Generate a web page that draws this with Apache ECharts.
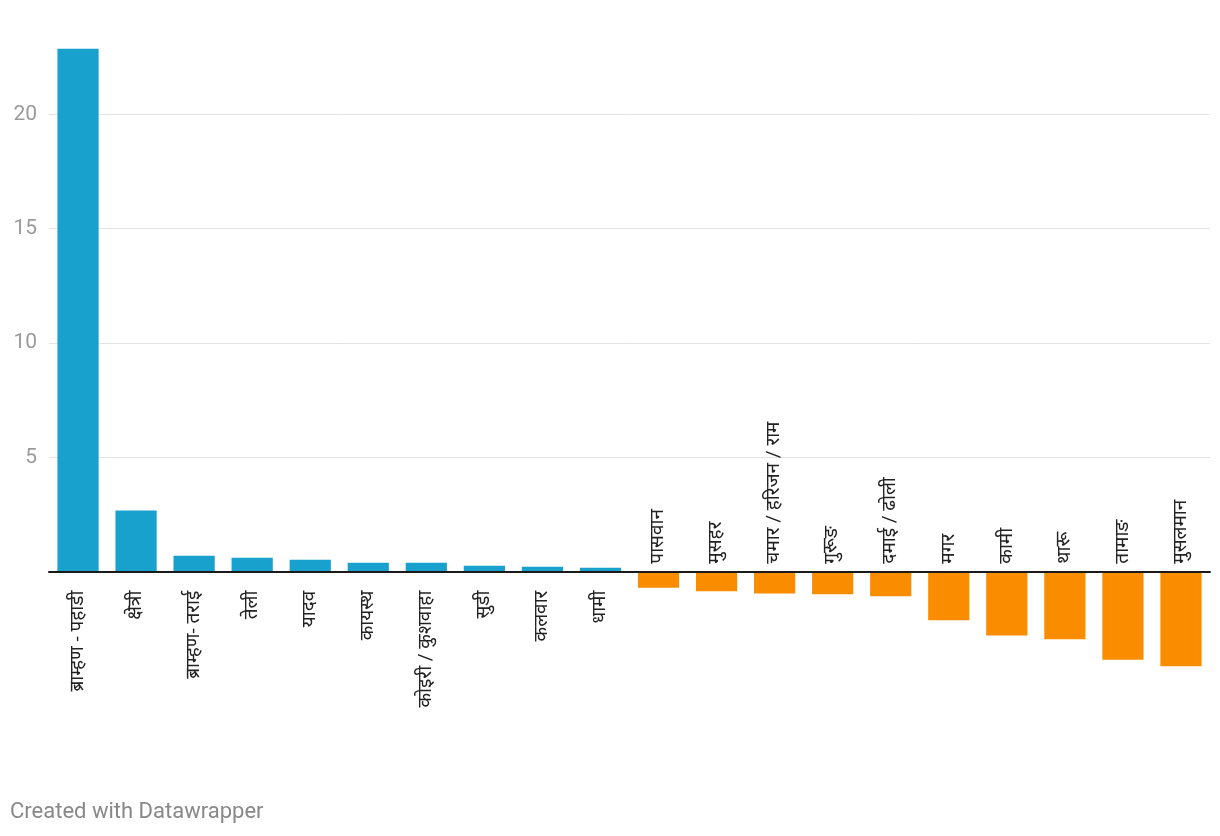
<!DOCTYPE html>
<html>
<head>
<meta charset="utf-8">
<script src="https://cdn.jsdelivr.net/npm/echarts@6/dist/echarts.min.js"></script>
<style>
html,body{margin:0;padding:0;background:#fff;}
#chart{width:1220px;height:836px;}
</style>
</head>
<body>
<div id="chart"></div>
<script>
const categories = ['ब्राम्हण - पहाडी','क्षेत्री','ब्राम्हण- तराई','तेली','यादव','कायस्थ','कोइरी / कुशवाहा','सुडी','कलवार','धामी','पासवान','मुसहर','चमार / हरिजन / राम','गुरूङ','दमाई / ढोली','मगर','कामी','थारू','तामाङ','मुसलमान'];
const values = [22.87, 2.67, 0.70, 0.61, 0.52, 0.39, 0.39, 0.26, 0.22, 0.17, -0.70, -0.86, -0.95, -0.99, -1.08, -2.13, -2.79, -2.96, -3.85, -4.14];
const yTicks = [5, 10, 15, 20];

const chart = echarts.init(document.getElementById('chart'), null, {renderer: 'canvas'});
const labelFont = "Roboto, 'Noto Sans', sans-serif";
const data = values.map((v, i) => ({
  value: v,
  itemStyle: {color: v >= 0 ? '#18a1cd' : '#fa8c00'},
  label: v >= 0
    ? {position: 'bottom', distance: 19, align: 'right', verticalAlign: 'middle'}
    : {position: 'top', distance: 8, align: 'left', verticalAlign: 'middle'}
}));

chart.setOption({
  animation: false,
  backgroundColor: '#ffffff',
  grid: {left: 49, right: 10, top: 0, height: 686, containLabel: false},
  xAxis: {
    type: 'category',
    data: categories,
    axisLine: {onZero: true, lineStyle: {color: '#1a1a1a', width: 2}},
    axisTick: {show: false},
    axisLabel: {show: false},
    z: 10
  },
  yAxis: {
    type: 'value',
    min: -5, max: 25, interval: 5,
    axisLine: {show: false},
    axisTick: {show: false},
    splitLine: {show: true, lineStyle: {color: ['transparent','transparent','#e3e3e3','#e3e3e3','#e3e3e3','#e3e3e3','transparent'], width: 1}},
    axisLabel: {
      margin: 12,
      color: '#9a9a9a',
      fontFamily: labelFont,
      fontSize: 21,
      formatter: v => yTicks.indexOf(v) >= 0 ? String(v) : ''
    }
  },
  series: [{
    type: 'bar',
    data: data,
    barCategoryGap: '29%',
    label: {
      show: true,
      rotate: 90,
      formatter: p => categories[p.dataIndex],
      color: '#222222',
      fontFamily: labelFont,
      fontSize: 19
    }
  }],
  graphic: [{
    type: 'text',
    left: 10,
    top: 801,
    style: {text: 'Created with Datawrapper', fill: '#888888', font: "22px Roboto, sans-serif"}
  }]
});
</script>
</body>
</html>
